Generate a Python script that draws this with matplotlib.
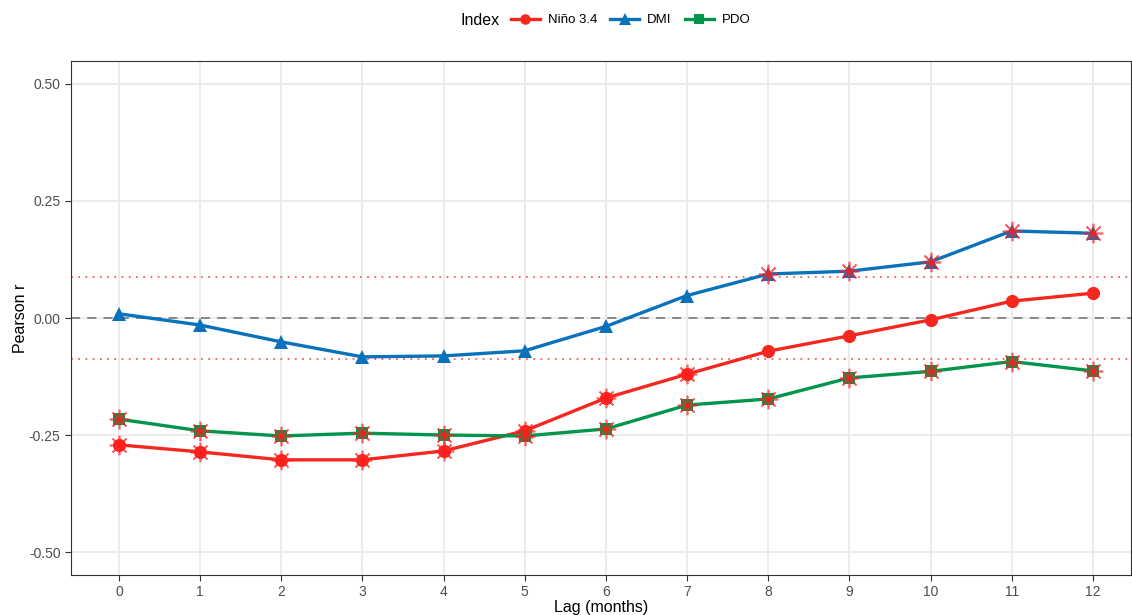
import numpy as np
import matplotlib
matplotlib.use("Agg")
import matplotlib.pyplot as plt
from matplotlib.lines import Line2D
from matplotlib.offsetbox import HPacker

plt.rcParams['font.family'] = ['Liberation Sans', 'DejaVu Sans']

lags = list(range(13))
nino34 = [-0.271, -0.286, -0.303, -0.303, -0.284, -0.241, -0.171, -0.120,
          -0.071, -0.038, -0.004, 0.036, 0.053]
dmi = [0.009, -0.015, -0.051, -0.083, -0.081, -0.070, -0.018, 0.048,
       0.094, 0.100, 0.120, 0.186, 0.181]
pdo = [-0.216, -0.241, -0.252, -0.246, -0.250, -0.252, -0.237, -0.186,
       -0.173, -0.128, -0.114, -0.093, -0.113]
threshold = 0.0877
yticks = [-0.50, -0.25, 0.00, 0.25, 0.50]
ytick_labels = ["-0.50", "-0.25", "0.00", "0.25", "0.50"]

series = [
    ("Niño 3.4", nino34, "#F5281F", "o", 9.5),
    ("DMI", dmi, "#0A72BA", "^", 10.5),
    ("PDO", pdo, "#00954C", "s", 9),
]

fig = plt.figure(figsize=(11.32, 6.15), dpi=100)
ax = fig.add_axes([71/1132, 40/615, (1131-71)/1132, (575-61)/615])

ax.set_xlim(-0.59, 12.47)
ax.set_ylim(-0.549, 0.549)
ax.set_xticks(lags)
ax.set_yticks(yticks)
ax.set_yticklabels(ytick_labels)
ax.grid(True, color="#EBEBEB", linewidth=1.3, zorder=0)
ax.set_axisbelow(True)
for s in ax.spines.values():
    s.set_color("#333333")
    s.set_linewidth(0.8)
ax.tick_params(axis='both', colors="#333333", labelcolor="#4D4D4D",
               labelsize=10, length=4, width=0.8)
ax.tick_params(axis='x', pad=3)

ax.axhline(0, color="#808080", linestyle=(0, (5, 4)), linewidth=1.3, zorder=1)
ax.axhline(threshold, color="#F5281F", alpha=0.75, linestyle=(0, (1, 3)), linewidth=1.3, zorder=1)
ax.axhline(-threshold, color="#F5281F", alpha=0.75, linestyle=(0, (1, 3)), linewidth=1.3, zorder=1)

handles = []
for name, vals, col, mk, ms in series:
    ax.plot(lags, vals, color=col, linewidth=2.4, marker=mk, markersize=ms,
            markeredgewidth=0, zorder=3)
    v = np.array(vals)
    sig = np.abs(v) > threshold
    x = np.array(lags)[sig]
    ax.plot(x, v[sig], linestyle='none', marker=(8, 2, 0), markersize=14,
            markeredgecolor="#FF2020", markeredgewidth=1.2, alpha=0.7, zorder=4)
    ax.plot(x, v[sig], linestyle='none', marker='o', markersize=3,
            color="#FF1A1A", markeredgewidth=0, zorder=5)
    handles.append(Line2D([0], [0], color=col, linewidth=2.4, marker=mk,
                          markersize=ms * 0.8, markeredgewidth=0))

ax.set_xlabel("Lag (months)", fontsize=11.5, labelpad=1)
ax.set_ylabel("Pearson r", fontsize=11.5, labelpad=0.5)

leg = fig.legend(handles, [s[0] for s in series], title="Index",
                 loc="center", bbox_to_anchor=(0.535, 0.967), ncol=3,
                 frameon=False, fontsize=9.5, title_fontsize=11.5,
                 handlelength=2.2, columnspacing=1.0, handletextpad=0.6)
title_box = leg._legend_title_box
handle_box = leg._legend_handle_box
leg._legend_box._children = [HPacker(pad=0, sep=8, align="center",
                                     children=[title_box, handle_box])]

fig.savefig("out.png", dpi=100)
